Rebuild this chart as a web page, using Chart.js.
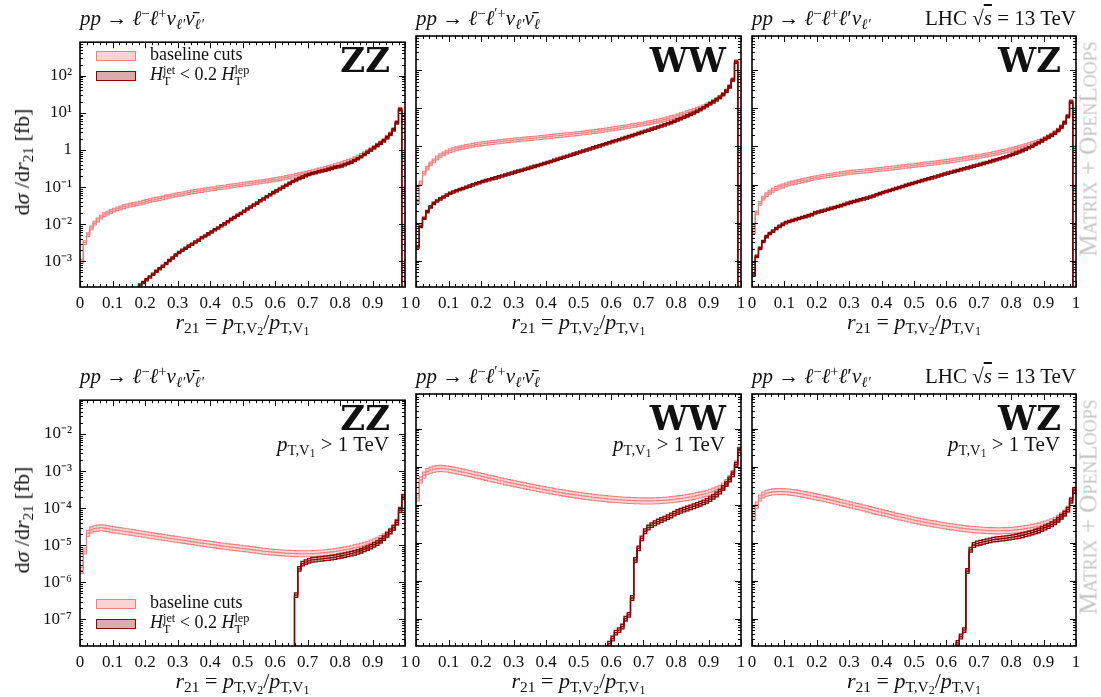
<!DOCTYPE html>
<html lang="en">
<head>
<meta charset="UTF-8">
<title>r21 distributions: ZZ, WW, WZ</title>
<script src="https://cdn.jsdelivr.net/npm/chart.js"></script>
<style>
  body { margin: 0; background: #fff; }
  #fig { position: relative; width: 1101px; height: 697px; overflow: hidden;
         font-family: 'Liberation Serif', 'DejaVu Serif', serif; color: #111; }
  #fig canvas { position: absolute; }
  .lbl { position: absolute; white-space: nowrap; line-height: 1; }
  .lbl sub, .lbl sup { font-size: 70%; line-height: 0; }
  .lbl sub { vertical-align: -0.28em; }
  .lbl sup { vertical-align: 0.48em; }
  .lbl sub sub { font-size: 78%; vertical-align: -0.18em; }
  .big { font-family: 'DejaVu Serif', serif; font-weight: bold; }
  .ov { text-decoration: overline; }
  .stack { display: inline-block; vertical-align: -0.42em; font-size: 68%; line-height: 0.95; }
  .stack span { display: block; }
  .box { position: absolute; width: 40px; height: 10px; box-sizing: border-box; border-width: 1.5px; border-style: solid; }
  .mo { color: #c4c4c4; font-variant: small-caps; }
</style>
</head>
<body>
<div id="fig"></div>
<script>
// bins of r21 = pT,V2 / pT,V1, width 0.01 from 0 to 1
const binWidth = 0.01;
const xTickValues = [0, 0.1, 0.2, 0.3, 0.4, 0.5, 0.6, 0.7, 0.8, 0.9, 1];
const yTicksInclusive = [1e-3, 1e-2, 1e-1, 1, 1e1, 1e2];
const yTicksBoosted = [1e-7, 1e-6, 1e-5, 1e-4, 1e-3, 1e-2];
const yRangeInclusive = [2.03e-4, 800];
const yRangeBoosted = [1.91e-8, 0.0818];
// relative size of the uncertainty bands [lower, upper]
const bandInclusiveBase = [0.89, 1.12];
const bandInclusiveVeto = [0.93, 1.07];
const bandBoostedBase = [0.83, 1.2];
const bandBoostedVeto = [0.87, 1.15];

// dsigma/dr21 [fb], baseline cuts and HT(jet) < 0.2 HT(lep), inclusive
const zzBase = [
  1.0e-3, 3.2e-3, 5.2e-3, 7.9e-3, 1.07e-2, 1.3e-2, 1.55e-2, 1.8e-2, 2.0e-2, 2.2e-2,
  2.4e-2, 2.6e-2, 2.75e-2, 2.95e-2, 3.1e-2, 3.25e-2, 3.4e-2, 3.55e-2, 3.7e-2, 3.9e-2,
  4.1e-2, 4.3e-2, 4.5e-2, 4.7e-2, 4.9e-2, 5.1e-2, 5.4e-2, 5.6e-2, 5.9e-2, 6.2e-2,
  6.4e-2, 6.6e-2, 6.9e-2, 7.1e-2, 7.4e-2, 7.6e-2, 7.9e-2, 8.1e-2, 8.4e-2, 8.7e-2,
  8.9e-2, 9.1e-2, 9.5e-2, 9.8e-2, 0.100, 0.104, 0.107, 0.110, 0.113, 0.117,
  0.120, 0.123, 0.127, 0.130, 0.134, 0.138, 0.142, 0.146, 0.151, 0.156,
  0.162, 0.168, 0.175, 0.182, 0.190, 0.198, 0.207, 0.216, 0.226, 0.237,
  0.250, 0.262, 0.275, 0.290, 0.305, 0.320, 0.338, 0.357, 0.378, 0.400,
  0.430, 0.460, 0.490, 0.530, 0.580, 0.640, 0.710, 0.800, 0.900, 1.02,
  1.17, 1.35, 1.55, 1.80, 2.20, 2.70, 3.60, 5.50, 12.5, 0
];
const zzVeto = [
  0, 0, 0, 0, 0, 0, 0, 0, 0, 0,
  0, 0, 0, 0, 0, 0, 0, 1.8e-4, 2.3e-4, 2.7e-4,
  3.2e-4, 3.8e-4, 4.5e-4, 5.4e-4, 6.3e-4, 7.4e-4, 8.7e-4, 1.05e-3, 1.23e-3, 1.48e-3,
  1.74e-3, 2.0e-3, 2.24e-3, 2.57e-3, 2.9e-3, 3.3e-3, 3.7e-3, 4.3e-3, 4.8e-3, 5.5e-3,
  6.2e-3, 7.1e-3, 7.9e-3, 9.1e-3, 1.02e-2, 1.17e-2, 1.35e-2, 1.51e-2, 1.74e-2, 1.95e-2,
  2.24e-2, 2.57e-2, 2.9e-2, 3.3e-2, 3.7e-2, 4.3e-2, 4.8e-2, 5.5e-2, 6.2e-2, 7.1e-2,
  7.9e-2, 8.9e-2, 0.100, 0.112, 0.126, 0.141, 0.155, 0.170, 0.186, 0.204,
  0.219, 0.232, 0.245, 0.258, 0.272, 0.286, 0.300, 0.320, 0.340, 0.355,
  0.370, 0.400, 0.430, 0.470, 0.520, 0.580, 0.660, 0.760, 0.870, 1.00,
  1.15, 1.33, 1.53, 1.78, 2.15, 2.65, 3.50, 5.40, 12.3, 0
];
const wwBase = [
  0.036, 0.11, 0.20, 0.27, 0.35, 0.42, 0.50, 0.57, 0.64, 0.71,
  0.77, 0.82, 0.87, 0.92, 0.96, 1.00, 1.04, 1.08, 1.12, 1.15,
  1.18, 1.21, 1.24, 1.27, 1.30, 1.33, 1.36, 1.39, 1.42, 1.45,
  1.48, 1.51, 1.54, 1.57, 1.60, 1.63, 1.66, 1.69, 1.72, 1.76,
  1.80, 1.84, 1.88, 1.92, 1.96, 2.00, 2.04, 2.08, 2.12, 2.17,
  2.22, 2.28, 2.34, 2.40, 2.46, 2.52, 2.59, 2.66, 2.74, 2.82,
  2.90, 2.99, 3.08, 3.18, 3.28, 3.39, 3.50, 3.62, 3.75, 3.88,
  4.0, 4.15, 4.3, 4.5, 4.7, 4.9, 5.1, 5.4, 5.7, 6.0,
  6.4, 6.8, 7.2, 7.7, 8.2, 8.8, 9.5, 10.3, 11.2, 12.3,
  13.6, 15.2, 17.2, 19.8, 23.5, 29, 38, 57, 170, 0
];
const wwVeto = [
  2.3e-3, 8.0e-3, 1.3e-2, 1.95e-2, 2.6e-2, 3.2e-2, 3.7e-2, 4.2e-2, 4.7e-2, 5.3e-2,
  5.9e-2, 6.4e-2, 6.9e-2, 7.4e-2, 7.9e-2, 8.5e-2, 9.1e-2, 9.8e-2, 0.105, 0.112,
  0.120, 0.127, 0.134, 0.142, 0.150, 0.159, 0.168, 0.178, 0.189, 0.200,
  0.212, 0.225, 0.238, 0.252, 0.267, 0.283, 0.300, 0.318, 0.337, 0.357,
  0.380, 0.405, 0.432, 0.460, 0.490, 0.522, 0.556, 0.592, 0.630, 0.670,
  0.715, 0.76, 0.81, 0.86, 0.92, 0.98, 1.04, 1.11, 1.18, 1.26,
  1.34, 1.42, 1.51, 1.61, 1.71, 1.82, 1.94, 2.07, 2.21, 2.36,
  2.52, 2.68, 2.86, 3.05, 3.25, 3.47, 3.70, 3.95, 4.25, 4.6,
  5.0, 5.4, 5.9, 6.4, 7.0, 7.6, 8.4, 9.3, 10.4, 11.8,
  13.3, 15.0, 17.0, 19.6, 23.2, 28.5, 37, 56, 165, 0
];
const wzBase = [
  5.8e-3, 1.8e-2, 3.2e-2, 4.4e-2, 5.4e-2, 6.3e-2, 7.1e-2, 7.9e-2, 8.6e-2, 9.2e-2,
  9.8e-2, 0.104, 0.110, 0.115, 0.120, 0.126, 0.132, 0.138, 0.144, 0.150,
  0.156, 0.162, 0.167, 0.172, 0.177, 0.182, 0.187, 0.192, 0.198, 0.204,
  0.210, 0.214, 0.218, 0.222, 0.226, 0.230, 0.235, 0.240, 0.245, 0.250,
  0.255, 0.261, 0.267, 0.273, 0.279, 0.286, 0.293, 0.300, 0.307, 0.314,
  0.322, 0.330, 0.338, 0.346, 0.354, 0.362, 0.371, 0.380, 0.390, 0.400,
  0.410, 0.422, 0.434, 0.447, 0.460, 0.475, 0.490, 0.506, 0.523, 0.540,
  0.558, 0.578, 0.600, 0.623, 0.648, 0.675, 0.704, 0.735, 0.770, 0.808,
  0.85, 0.89, 0.94, 0.99, 1.05, 1.11, 1.18, 1.26, 1.36, 1.48,
  1.62, 1.80, 2.0, 2.3, 2.7, 3.3, 4.3, 6.3, 15, 0
];
const wzVeto = [
  4.2e-4, 1.3e-3, 2.1e-3, 3.2e-3, 4.3e-3, 5.2e-3, 6.0e-3, 7.0e-3, 8.0e-3, 9.0e-3,
  1.0e-2, 1.07e-2, 1.14e-2, 1.21e-2, 1.28e-2, 1.36e-2, 1.44e-2, 1.53e-2, 1.62e-2, 1.8e-2,
  1.9e-2, 2.0e-2, 2.12e-2, 2.24e-2, 2.37e-2, 2.5e-2, 2.65e-2, 2.8e-2, 3.0e-2, 3.2e-2,
  3.4e-2, 3.6e-2, 3.8e-2, 4.0e-2, 4.2e-2, 4.4e-2, 4.7e-2, 5.0e-2, 5.4e-2, 5.8e-2,
  6.2e-2, 6.6e-2, 7.0e-2, 7.4e-2, 7.9e-2, 8.4e-2, 8.9e-2, 9.5e-2, 0.101, 0.107,
  0.113, 0.120, 0.127, 0.134, 0.142, 0.150, 0.158, 0.168, 0.178, 0.189,
  0.200, 0.211, 0.222, 0.234, 0.247, 0.260, 0.274, 0.289, 0.305, 0.322,
  0.340, 0.360, 0.380, 0.402, 0.425, 0.450, 0.478, 0.508, 0.540, 0.58,
  0.62, 0.67, 0.72, 0.78, 0.85, 0.93, 1.02, 1.13, 1.26, 1.41,
  1.57, 1.76, 1.97, 2.25, 2.65, 3.25, 4.2, 6.2, 14.7, 0
];

// same, with pT,V1 > 1 TeV
const zzBaseHi = [
  2.1e-6, 7.0e-6, 2.1e-5, 2.6e-5, 2.8e-5, 2.9e-5, 2.95e-5, 2.9e-5, 2.8e-5, 2.7e-5,
  2.6e-5, 2.53e-5, 2.46e-5, 2.39e-5, 2.32e-5, 2.25e-5, 2.18e-5, 2.11e-5, 2.04e-5, 1.98e-5,
  1.92e-5, 1.86e-5, 1.80e-5, 1.74e-5, 1.69e-5, 1.64e-5, 1.59e-5, 1.54e-5, 1.49e-5, 1.45e-5,
  1.41e-5, 1.37e-5, 1.33e-5, 1.29e-5, 1.25e-5, 1.21e-5, 1.17e-5, 1.14e-5, 1.11e-5, 1.08e-5,
  1.05e-5, 1.02e-5, 9.9e-6, 9.6e-6, 9.4e-6, 9.1e-6, 8.9e-6, 8.7e-6, 8.5e-6, 8.3e-6,
  8.1e-6, 7.9e-6, 7.7e-6, 7.5e-6, 7.3e-6, 7.1e-6, 6.9e-6, 6.8e-6, 6.6e-6, 6.5e-6,
  6.4e-6, 6.3e-6, 6.2e-6, 6.1e-6, 6.05e-6, 6.0e-6, 5.95e-6, 5.9e-6, 5.9e-6, 5.9e-6,
  5.9e-6, 5.95e-6, 6.0e-6, 6.1e-6, 6.2e-6, 6.3e-6, 6.45e-6, 6.6e-6, 6.8e-6, 7.0e-6,
  7.2e-6, 7.5e-6, 7.8e-6, 8.1e-6, 8.5e-6, 8.9e-6, 9.4e-6, 1.0e-5, 1.07e-5, 1.15e-5,
  1.25e-5, 1.37e-5, 1.52e-5, 1.7e-5, 2.0e-5, 2.4e-5, 3.0e-5, 4.2e-5, 9.0e-5, 2.0e-4
];
const zzVetoHi = [
  0, 0, 0, 0, 0, 0, 0, 0, 0, 0,
  0, 0, 0, 0, 0, 0, 0, 0, 0, 0,
  0, 0, 0, 0, 0, 0, 0, 0, 0, 0,
  0, 0, 0, 0, 0, 0, 0, 0, 0, 0,
  0, 0, 0, 0, 0, 0, 0, 0, 0, 0,
  0, 0, 0, 0, 0, 0, 0, 0, 0, 0,
  0, 0, 0, 0, 0, 0, 4.5e-7, 2.3e-6, 3.2e-6, 3.5e-6,
  3.8e-6, 4.0e-6, 4.1e-6, 4.2e-6, 4.3e-6, 4.4e-6, 4.5e-6, 4.65e-6, 4.8e-6, 5.0e-6,
  5.2e-6, 5.4e-6, 5.65e-6, 5.9e-6, 6.25e-6, 6.6e-6, 7.1e-6, 7.7e-6, 8.4e-6, 9.2e-6,
  1.02e-5, 1.14e-5, 1.32e-5, 1.55e-5, 1.9e-5, 2.35e-5, 2.95e-5, 4.1e-5, 8.9e-5, 2.0e-4
];
const wwBaseHi = [
  1.5e-4, 4.5e-4, 6.0e-4, 7.4e-4, 8.1e-4, 8.6e-4, 8.9e-4, 9.0e-4, 8.9e-4, 8.7e-4,
  8.4e-4, 8.1e-4, 7.8e-4, 7.5e-4, 7.2e-4, 6.9e-4, 6.6e-4, 6.3e-4, 6.0e-4, 5.75e-4,
  5.5e-4, 5.25e-4, 5.0e-4, 4.8e-4, 4.6e-4, 4.4e-4, 4.2e-4, 4.0e-4, 3.85e-4, 3.7e-4,
  3.55e-4, 3.4e-4, 3.27e-4, 3.14e-4, 3.02e-4, 2.9e-4, 2.79e-4, 2.68e-4, 2.58e-4, 2.49e-4,
  2.4e-4, 2.32e-4, 2.24e-4, 2.16e-4, 2.09e-4, 2.02e-4, 1.96e-4, 1.9e-4, 1.84e-4, 1.79e-4,
  1.74e-4, 1.69e-4, 1.65e-4, 1.61e-4, 1.57e-4, 1.53e-4, 1.50e-4, 1.47e-4, 1.44e-4, 1.41e-4,
  1.39e-4, 1.37e-4, 1.35e-4, 1.33e-4, 1.31e-4, 1.30e-4, 1.29e-4, 1.28e-4, 1.27e-4, 1.26e-4,
  1.26e-4, 1.26e-4, 1.26e-4, 1.27e-4, 1.28e-4, 1.29e-4, 1.31e-4, 1.33e-4, 1.36e-4, 1.39e-4,
  1.42e-4, 1.46e-4, 1.50e-4, 1.55e-4, 1.60e-4, 1.66e-4, 1.73e-4, 1.81e-4, 1.90e-4, 2.0e-4,
  2.12e-4, 2.27e-4, 2.45e-4, 2.7e-4, 3.1e-4, 3.8e-4, 4.9e-4, 6.6e-4, 1.17e-3, 2.75e-3
];
const wwVetoHi = [
  0, 0, 0, 0, 0, 0, 0, 0, 0, 0,
  0, 0, 0, 0, 0, 0, 0, 0, 0, 0,
  0, 0, 0, 0, 0, 0, 0, 0, 0, 0,
  0, 0, 0, 0, 0, 0, 0, 0, 0, 0,
  0, 0, 0, 0, 0, 0, 0, 0, 0, 0,
  0, 0, 0, 0, 0, 0, 0, 0, 0, 2.2e-8,
  3.0e-8, 4.3e-8, 5.0e-8, 6.2e-8, 1.0e-7, 1.26e-7, 3.5e-7, 3.5e-6, 7.1e-6, 1.3e-5,
  2.0e-5, 2.5e-5, 2.9e-5, 3.25e-5, 3.6e-5, 3.95e-5, 4.3e-5, 4.7e-5, 5.2e-5, 5.8e-5,
  6.4e-5, 6.9e-5, 7.4e-5, 7.9e-5, 8.5e-5, 9.1e-5, 9.8e-5, 1.06e-4, 1.15e-4, 1.26e-4,
  1.4e-4, 1.6e-4, 1.85e-4, 2.2e-4, 2.75e-4, 3.5e-4, 4.6e-4, 6.3e-4, 1.13e-3, 2.7e-3
];
const wzBaseHi = [
  4.8e-5, 9.8e-5, 1.5e-4, 1.8e-4, 2.0e-4, 2.1e-4, 2.17e-4, 2.2e-4, 2.22e-4, 2.21e-4,
  2.19e-4, 2.15e-4, 2.1e-4, 2.04e-4, 1.98e-4, 1.91e-4, 1.84e-4, 1.77e-4, 1.7e-4, 1.63e-4,
  1.56e-4, 1.5e-4, 1.44e-4, 1.38e-4, 1.32e-4, 1.26e-4, 1.2e-4, 1.14e-4, 1.09e-4, 1.04e-4,
  9.9e-5, 9.4e-5, 9.0e-5, 8.6e-5, 8.2e-5, 7.8e-5, 7.4e-5, 7.0e-5, 6.7e-5, 6.4e-5,
  6.1e-5, 5.8e-5, 5.5e-5, 5.3e-5, 5.0e-5, 4.8e-5, 4.6e-5, 4.4e-5, 4.2e-5, 4.0e-5,
  3.85e-5, 3.7e-5, 3.55e-5, 3.42e-5, 3.3e-5, 3.18e-5, 3.07e-5, 2.97e-5, 2.88e-5, 2.79e-5,
  2.7e-5, 2.62e-5, 2.55e-5, 2.48e-5, 2.42e-5, 2.36e-5, 2.31e-5, 2.26e-5, 2.22e-5, 2.18e-5,
  2.15e-5, 2.12e-5, 2.1e-5, 2.08e-5, 2.07e-5, 2.06e-5, 2.06e-5, 2.07e-5, 2.08e-5, 2.1e-5,
  2.13e-5, 2.17e-5, 2.22e-5, 2.28e-5, 2.35e-5, 2.43e-5, 2.52e-5, 2.63e-5, 2.76e-5, 2.92e-5,
  3.1e-5, 3.3e-5, 3.55e-5, 3.9e-5, 4.4e-5, 5.1e-5, 6.0e-5, 7.6e-5, 1.3e-4, 2.4e-4
];
const wzVetoHi = [
  0, 0, 0, 0, 0, 0, 0, 0, 0, 0,
  0, 0, 0, 0, 0, 0, 0, 0, 0, 0,
  0, 0, 0, 0, 0, 0, 0, 0, 0, 0,
  0, 0, 0, 0, 0, 0, 0, 0, 0, 0,
  0, 0, 0, 0, 0, 0, 0, 0, 0, 0,
  0, 0, 0, 0, 0, 0, 0, 0, 0, 0,
  0, 0, 0, 2.3e-8, 3.4e-8, 5.0e-8, 1.8e-6, 6.5e-6, 8.7e-6, 9.5e-6,
  1.0e-5, 1.05e-5, 1.1e-5, 1.15e-5, 1.2e-5, 1.23e-5, 1.26e-5, 1.29e-5, 1.32e-5, 1.36e-5,
  1.4e-5, 1.45e-5, 1.5e-5, 1.57e-5, 1.65e-5, 1.74e-5, 1.84e-5, 1.96e-5, 2.1e-5, 2.3e-5,
  2.5e-5, 2.75e-5, 3.05e-5, 3.45e-5, 4.0e-5, 4.8e-5, 5.8e-5, 7.4e-5, 1.28e-4, 2.4e-4
];

const processNames = ['ZZ', 'WW', 'WZ'];
const processTitles = [
  '<i>pp</i> → <i>ℓ</i><sup>−</sup><i>ℓ</i><sup>+</sup><i>ν</i><sub><i>ℓ′</i></sub><i>ν̄</i><sub><i>ℓ′</i></sub>',
  '<i>pp</i> → <i>ℓ</i><sup>−</sup><i>ℓ</i><sup>′+</sup><i>ν</i><sub><i>ℓ′</i></sub><i>ν̄</i><sub><i>ℓ</i></sub>',
  '<i>pp</i> → <i>ℓ</i><sup>−</sup><i>ℓ</i><sup>+</sup><i>ℓ</i>′<i>ν</i><sub><i>ℓ′</i></sub>'
];
const legendLabels = ['baseline cuts',
  '<i>H</i><span class="stack"><span>jet</span><span>T</span></span> &lt; 0.2 <i>H</i><span class="stack"><span>lep</span><span>T</span></span>'];

const pinkLine = '#f08080', pinkFill = 'rgba(240,128,128,0.33)';
const darkLine = '#8b0000', darkFill = 'rgba(139,0,0,0.28)';

const colLeft = [80, 416, 752], colRight = [405, 741, 1076];
const rowTop = [36, 394], rowBottom = [287, 646];
const fig = document.getElementById('fig');
const FLOOR = 1e-30;

const SUP = {'-': '⁻', '0': '⁰', '1': '¹', '2': '²', '3': '³', '4': '⁴', '5': '⁵', '6': '⁶', '7': '⁷', '8': '⁸', '9': '⁹'};
function powLabel(v) {
  const e = Math.round(Math.log10(v));
  return e === 0 ? '1' : '10' + String(e).split('').map(c => SUP[c]).join('');
}

// histogram as step line: one point on each left bin edge plus the closing edge
function steps(vals, f) {
  const pts = vals.map((v, i) => ({x: i * binWidth, y: Math.max(v * f, FLOOR)}));
  pts.push({x: vals.length * binWidth, y: Math.max(vals[vals.length - 1] * f, FLOOR)});
  return pts;
}

function bandSets(vals, band, line, fill, w, ord) {
  const common = {borderColor: line, borderWidth: w, pointRadius: 0, stepped: 'before', tension: 0};
  return [
    {...common, data: steps(vals, band[0]), fill: false, order: ord + 2},
    {...common, data: steps(vals, band[1]), fill: '-1', backgroundColor: fill, order: ord + 1},
    {...common, data: steps(vals, 1), fill: false, order: ord}
  ];
}

// frame and inward ticks on all four sides
const frameTicks = {
  id: 'frameTicks',
  afterDatasetsDraw(chart) {
    const {ctx, chartArea: a, scales: {x, y}} = chart;
    ctx.save();
    ctx.strokeStyle = '#000';
    ctx.lineWidth = 1;
    ctx.beginPath();
    for (let i = 0; i <= 50; i++) {
      const px = Math.round(x.getPixelForValue(i / 50)) + 0.5;
      const len = i % 5 === 0 ? 6 : 3;
      ctx.moveTo(px, a.bottom); ctx.lineTo(px, a.bottom - len);
      ctx.moveTo(px, a.top); ctx.lineTo(px, a.top + len);
    }
    const e0 = Math.floor(Math.log10(y.min)), e1 = Math.ceil(Math.log10(y.max));
    for (let e = e0; e <= e1; e++) {
      for (let m = 1; m <= 9; m++) {
        const v = m * Math.pow(10, e);
        if (v < y.min || v > y.max) continue;
        const py = Math.round(y.getPixelForValue(v)) + 0.5;
        const len = m === 1 ? 6 : 3;
        ctx.moveTo(a.left, py); ctx.lineTo(a.left + len, py);
        ctx.moveTo(a.right, py); ctx.lineTo(a.right - len, py);
      }
    }
    ctx.stroke();
    ctx.lineWidth = 1.6;
    ctx.strokeRect(a.left, a.top, a.right - a.left, a.bottom - a.top);
    ctx.restore();
  }
};

function makePanel(col, row, base, veto) {
  const L = colLeft[col], R = colRight[col], T = rowTop[row], B = rowBottom[row];
  const yw = col === 0 ? 62 : 12, pad = 12, xh = 34;
  const cv = document.createElement('canvas');
  cv.width = yw + (R - L) + pad;
  cv.height = pad + (B - T) + xh;
  cv.style.left = (L - yw) + 'px';
  cv.style.top = (T - pad) + 'px';
  fig.appendChild(cv);
  const yRange = row === 0 ? yRangeInclusive : yRangeBoosted;
  const yTicks = row === 0 ? yTicksInclusive : yTicksBoosted;
  const bBase = row === 0 ? bandInclusiveBase : bandBoostedBase;
  const bVeto = row === 0 ? bandInclusiveVeto : bandBoostedVeto;
  const tickFont = {family: "'Liberation Serif', serif", size: 17};
  new Chart(cv, {
    type: 'line',
    data: {datasets: [
      ...bandSets(base, bBase, pinkLine, pinkFill, 1.1, 3),
      ...bandSets(veto, bVeto, darkLine, darkFill, 1.3, 0)
    ]},
    options: {
      responsive: false, animation: false, events: [],
      layout: {padding: {top: pad, right: pad, left: 0, bottom: 0}},
      plugins: {legend: {display: false}, tooltip: {enabled: false}},
      scales: {
        x: {
          type: 'linear', min: 0, max: 1,
          grid: {display: false, drawTicks: false}, border: {display: false},
          afterBuildTicks: s => { s.ticks = xTickValues.map(v => ({value: v})); },
          afterFit: s => { s.height = xh; },
          ticks: {padding: 6, color: '#111', font: tickFont, maxRotation: 0, autoSkip: false,
                  callback: v => String(v)}
        },
        y: {
          type: 'logarithmic', min: yRange[0], max: yRange[1],
          grid: {display: false, drawTicks: false}, border: {display: false},
          afterBuildTicks: s => { s.ticks = yTicks.map(v => ({value: v})); },
          afterFit: s => { s.width = yw; },
          ticks: {display: col === 0, padding: 8, color: '#111', font: tickFont,
                  callback: v => powLabel(v)}
        }
      }
    },
    plugins: [frameTicks]
  });
}

function addText(html, x, baseline, size, align, cls) {
  const d = document.createElement('div');
  d.className = 'lbl' + (cls ? ' ' + cls : '');
  d.innerHTML = html;
  d.style.left = x + 'px';
  d.style.top = (baseline - 0.84 * size) + 'px';
  d.style.fontSize = size + 'px';
  if (align === 'right') d.style.transform = 'translateX(-100%)';
  if (align === 'center') d.style.transform = 'translateX(-50%)';
  fig.appendChild(d);
}
function addVertical(html, cx, cy, size, cls) {
  const d = document.createElement('div');
  d.className = 'lbl' + (cls ? ' ' + cls : '');
  d.innerHTML = html;
  d.style.left = cx + 'px';
  d.style.top = cy + 'px';
  d.style.fontSize = size + 'px';
  d.style.transform = 'translate(-50%, -50%) rotate(-90deg)';
  fig.appendChild(d);
}
function addLegend(top) {
  const styles = [[pinkLine, '#fcd3d3'], [darkLine, '#d9abab']];
  styles.forEach(([line, fill], i) => {
    const b = document.createElement('div');
    b.className = 'box';
    b.style.left = '96px';
    b.style.top = (top + i * 20) + 'px';
    b.style.borderColor = line;
    b.style.background = fill;
    fig.appendChild(b);
    addText(legendLabels[i], 150, top + 9 + i * 20, 18);
  });
}

const rows = [
  [zzBase, zzVeto, wwBase, wwVeto, wzBase, wzVeto],
  [zzBaseHi, zzVetoHi, wwBaseHi, wwVetoHi, wzBaseHi, wzVetoHi]
];
rows.forEach((sets, row) => {
  for (let col = 0; col < 3; col++) makePanel(col, row, sets[2 * col], sets[2 * col + 1]);
  const T = rowTop[row], B = rowBottom[row];
  for (let col = 0; col < 3; col++) {
    const L = colLeft[col], R = colRight[col];
    addText(processTitles[col], L, T - 10, 21);
    addText(processNames[col], R - 15, T + 36, 34, 'right', 'big');
    if (row === 1) addText('<i>p</i><sub>T,V<sub>1</sub></sub> &gt; 1 TeV', R - 16, T + 58, 21, 'right');
    addText('<i>r</i><sub>21</sub> = <i>p</i><sub>T,V<sub>2</sub></sub>/<i>p</i><sub>T,V<sub>1</sub></sub>',
            (L + R) / 2, B + 42, 22, 'center');
  }
  addText('LHC √<span class="ov"><i>s</i></span> = 13 TeV', colRight[2], T - 10, 21, 'right');
  addVertical('d<i>σ</i> /d<i>r</i><sub>21</sub> [fb]', 22, (T + B) / 2, 22);
  addVertical('Matrix + OpenLoops', 1088, T + 113, 25, 'mo');
});
addLegend(51);
addLegend(599);
</script>
</body>
</html>
